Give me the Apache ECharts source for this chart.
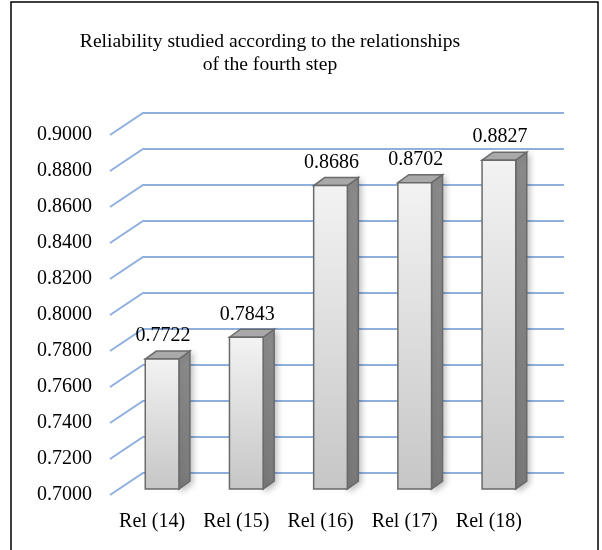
<!DOCTYPE html>
<html>
<head>
<meta charset="utf-8">
<script src="https://cdn.jsdelivr.net/npm/echarts@6/dist/echarts.min.js"></script>
<style>
  html, body { margin: 0; padding: 0; background: #fff; }
  #chart { width: 602px; height: 550px; }
</style>
</head>
<body>
<div id="chart"></div>
<script>
// Reliability of the fourth-step relationships
const categories = ['Rel (14)', 'Rel (15)', 'Rel (16)', 'Rel (17)', 'Rel (18)'];
const reliability = [0.7722, 0.7843, 0.8686, 0.8702, 0.8827];
const yTicks = [0.70, 0.72, 0.74, 0.76, 0.78, 0.80, 0.82, 0.84, 0.86, 0.88, 0.90];

const FONT = '"Liberation Serif", "Times New Roman", serif';
const Y_MIN = 0.70, Y_MAX = 0.90, Y_STEP = 0.02;

// oblique projection: back wall and bar front plane are shifted from the label plane
const WALL = [33, -22];
const BAR_PLANE = [10, -6];
const DEPTH = [11, -8];

const chart = echarts.init(document.getElementById('chart'));

function gridRender(params, api) {
  const v = api.value(0);
  const p = api.coord([0, v]);
  const band = api.size([1, 0])[0];
  const x0 = p[0] - band / 2;
  const x1 = api.coord([categories.length - 1, v])[0] + band / 2;
  const y = p[1];
  return {
    type: 'polyline',
    shape: {
      points: [
        [x0, y],
        [x0 + WALL[0], y + WALL[1]],
        [x1 + WALL[0], y + WALL[1]]
      ]
    },
    style: { stroke: '#8fb0df', lineWidth: 2, fill: null }
  };
}

function barRender(params, api) {
  const idx = api.value(0);
  const val = api.value(1);
  const top = api.coord([idx, val]);
  const base = api.coord([idx, Y_MIN]);
  const band = api.size([1, 0])[0];
  const w = band * 0.4;
  const cx = top[0] + BAR_PLANE[0];
  const yt = top[1] + BAR_PLANE[1];
  const yb = base[1] + BAR_PLANE[1];
  const xl = cx - w / 2, xr = cx + w / 2;
  const dx = DEPTH[0], dy = DEPTH[1];
  const edge = '#6a6a6a';
  return {
    type: 'group',
    children: [
      {
        type: 'polygon',
        shape: { points: [[xr, yt], [xr + dx, yt + dy], [xr + dx, yb + dy], [xr, yb]] },
        style: {
          fill: new echarts.graphic.LinearGradient(0, 0, 0, 1, [
            { offset: 0, color: '#8e8e8e' },
            { offset: 1, color: '#7c7c7c' }
          ]),
          stroke: edge, lineWidth: 1.5,
          shadowBlur: 6, shadowColor: 'rgba(0,0,0,0.25)', shadowOffsetX: 2, shadowOffsetY: 2
        }
      },
      {
        type: 'polygon',
        shape: { points: [[xl, yt], [xl + dx, yt + dy], [xr + dx, yt + dy], [xr, yt]] },
        style: { fill: '#a9a9a9', stroke: edge, lineWidth: 1.5 }
      },
      {
        type: 'rect',
        shape: { x: xl, y: yt, width: w, height: yb - yt },
        style: {
          fill: new echarts.graphic.LinearGradient(0, 0, 0, 1, [
            { offset: 0, color: '#f3f3f3' },
            { offset: 1, color: '#c6c6c6' }
          ]),
          stroke: edge, lineWidth: 1.5
        }
      },
      {
        type: 'text',
        style: {
          text: val.toFixed(4),
          x: cx + 1, y: yt - 13,
          align: 'center', verticalAlign: 'bottom',
          font: '20px ' + FONT, fill: '#000'
        }
      }
    ]
  };
}

chart.setOption({
  animation: false,
  backgroundColor: '#fff',
  title: {
    text: 'Reliability studied according to the relationships\nof the fourth step',
    left: 265, top: 25, textAlign: 'center',
    textStyle: { fontFamily: FONT, fontSize: 19.6, fontWeight: 'normal', color: '#000', lineHeight: 23 }
  },
  graphic: [{
    type: 'rect',
    shape: { x: 11, y: 2, width: 587, height: 560 },
    style: { fill: null, stroke: '#000', lineWidth: 1.5 },
    z: 100
  }],
  grid: { left: 110, right: 71, top: 135, bottom: 55 },
  xAxis: {
    type: 'category',
    data: categories,
    boundaryGap: true,
    axisLine: { show: false },
    axisTick: { show: false },
    axisLabel: { interval: 0, fontFamily: FONT, fontSize: 20, color: '#000', margin: 17 }
  },
  yAxis: {
    type: 'value',
    min: Y_MIN, max: Y_MAX, interval: Y_STEP,
    splitLine: { show: false },
    axisLine: { show: false },
    axisTick: { show: false },
    axisLabel: {
      fontFamily: FONT, fontSize: 20, color: '#000', margin: 18,
      formatter: v => v.toFixed(4)
    }
  },
  series: [
    {
      type: 'custom',
      renderItem: gridRender,
      data: yTicks.map(v => [v]),
      encode: { y: 0 },
      silent: true,
      z: 1
    },
    {
      type: 'custom',
      renderItem: barRender,
      data: reliability.map((v, i) => [i, v]),
      encode: { x: 0, y: 1 },
      z: 2
    }
  ]
});
</script>
</body>
</html>
